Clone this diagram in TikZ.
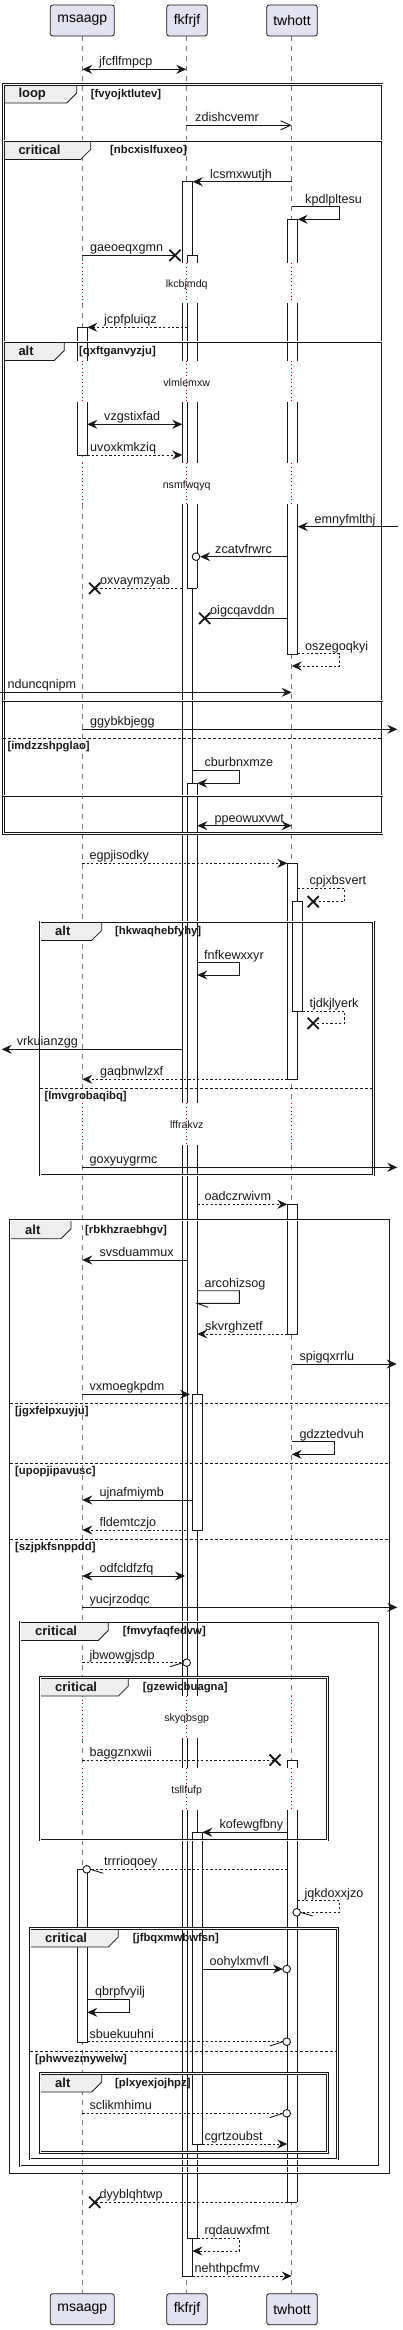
\documentclass[tikz,border=0pt]{standalone}
\usepackage{fontspec}
\setmainfont{Liberation Sans}
\usetikzlibrary{arrows.meta}
\definecolor{ink}{HTML}{181818}
\definecolor{partfill}{HTML}{E2E2F0}
\definecolor{tabfill}{HTML}{EEEEEE}
\definecolor{delayc}{HTML}{A80036}
\tikzset{
  lifeline/.style={draw=black!55, line width=0.8pt, dash pattern=on 5pt off 5pt},
  delayline/.style={draw=delayc, line width=0.9pt, dash pattern=on 1pt off 2.6pt},
  boxline/.style={draw=ink, line width=0.9pt},
  actbox/.style={fill=white, draw=ink, line width=0.9pt},
  part/.style={draw=ink, fill=partfill, line width=0.8pt, rounded corners=2.5pt, minimum height=31pt, inner sep=0pt, font=\fontsize{14}{16}\selectfont},
  msg/.style={draw=ink, line width=0.9pt},
  dmsg/.style={msg, dash pattern=on 2.2pt off 2.2pt},
  fa/.style={-{Stealth[length=10pt,width=9pt,inset=3.5pt]}},
  ba/.style={{Stealth[length=10pt,width=9pt,inset=3.5pt]}-{Stealth[length=10pt,width=9pt,inset=3.5pt]}},
  oa/.style={-{Straight Barb[length=10pt,width=9pt]}},
  lbl/.style={anchor=base west, inner sep=0pt, font=\fontsize{12.6}{14}\selectfont, text=ink},
  dlbl/.style={anchor=base, inner sep=0pt, font=\fontsize{10.6}{12}\selectfont, text=ink},
  frameb/.style={draw=ink, line width=0.75pt, double=white, double distance=0.9pt},
  tabb/.style={draw=ink, fill=tabfill, line width=0.8pt},
  tabt/.style={anchor=west, inner sep=0pt, font=\bfseries\fontsize{13}{15}\selectfont, text=ink},
  grd/.style={anchor=west, inner sep=0pt, font=\bfseries\fontsize{11.3}{13}\selectfont, text=ink},
  elseln/.style={draw=ink, line width=0.8pt, dash pattern=on 2.5pt off 2.5pt},
  xmark/.style={draw=ink, line width=1.8pt},
  omark/.style={draw=ink, line width=0.9pt, fill=white},
}
\newcommand\seg[4]{\fill[white] (#1,#3) rectangle (#2,#4); \draw[boxline] (#1,#3) -- (#1,#4) (#2,#3) -- (#2,#4);}
\newcommand\hln[3]{\draw[boxline] (#1,#3) -- (#2,#3);}
\newcommand\xmk[2]{\draw[xmark] (#1-5.6,#2-5.6) -- (#1+5.6,#2+5.6) (#1-5.6,#2+5.6) -- (#1+5.6,#2-5.6);}
\newcommand\omk[2]{\draw[omark] (#1,#2) circle[radius=3.8];}
\newcommand\frm[9]{%
  \draw[tabb] (#2,#3) -- (#6,#3) -- (#6,#3+8.7) -- (#6-10,#3+18.7) -- (#2,#3+18.7) -- cycle;
  \draw[frameb] (#2,#3) rectangle (#4,#5);
  \node[tabt] (#1k) at (#2+15,#3+9.5) {#7};
  \node[grd] (#1g) at (#9,#3+10.3) {#8};}
\newcommand\els[6]{%
  \draw[elseln] (#2,#4) -- (#3,#4);
  \node[grd] (#1) at (#5,#4+8.5) {#6};}
\begin{document}
\begin{tikzpicture}[x=1pt,y=-1pt]
\useasboundingbox (0,0) rectangle (403,2330);

% participants
\node[part, minimum width=64pt] (pa) at (82.3,20.5) {msaagp};
\node[part, minimum width=40.6pt] (pb) at (187,20.5) {fkfrjf};
\node[part, minimum width=50.6pt] (pc) at (292,20.5) {twhott};
\node[part, minimum width=64pt] (qa) at (82.3,2309.2) {msaagp};
\node[part, minimum width=40.6pt] (qb) at (187,2309.2) {fkfrjf};
\node[part, minimum width=50.6pt] (qc) at (292,2309.2) {twhott};

% lifelines
\foreach \x in {82.3,186.3,291.7}{
  \foreach \a/\b in {36/263.3, 303.3/360.7, 402.3/463.3, 504/1103.3, 1145/1696, 1738.3/1768.3, 1810/2293.3}
    \draw[lifeline] (\x,\a) -- (\x,\b);
  \foreach \a/\b in {263.3/303.3, 360.7/402.3, 463.3/504, 1103.3/1145, 1696/1738.3, 1768.3/1810}
    \draw[delayline] (\x,\a) -- (\x,\b);
}

% activation boxes
\foreach \a/\b in {181.7/263.3, 303.3/360.7, 402.3/463.3, 504/1103.3, 1145/1696, 1738.3/1768.3, 1810/2276}
  {\seg{182.3}{192.7}{\a}{\b}}
\hln{182.3}{192.7}{181.7} \hln{182.3}{192.7}{2276}
\foreach \a/\b in {255.3/263.3, 303.3/360.7, 402.3/463.3, 504/588.3}
  {\seg{187.3}{197.3}{\a}{\b}}
\hln{187.3}{197.3}{255.3} \hln{187.3}{197.3}{588.3}
\foreach \a/\b in {783.3/1103.3, 1145/1696, 1738.3/1768.3, 1810/2238.3}
  {\seg{187.3}{197.3}{\a}{\b}}
\hln{187.3}{197.3}{783.3} \hln{187.3}{197.3}{2238.3}
\draw[actbox] (192.3,1394.3) rectangle (202.3,1530);
\draw[actbox] (192.3,1832.3) rectangle (202.3,2144);
\foreach \a/\b in {219.3/263.3, 303.3/360.7, 402.3/463.3, 504/654.3}
  {\seg{287.3}{297.7}{\a}{\b}}
\hln{287.3}{297.7}{219.3} \hln{287.3}{297.7}{654.3}
\draw[actbox] (287.3,863.3) rectangle (297.7,1079.3);
\draw[actbox] (292.3,901.7) rectangle (302.3,1011);
\draw[actbox] (287.3,1204.3) rectangle (297.7,1334);
\foreach \a/\b in {1760/1768.3, 1810/2202.3}
  {\seg{287.3}{297.3}{\a}{\b}}
\hln{287.3}{297.3}{1760} \hln{287.3}{297.3}{2202.3}
\foreach \a/\b in {327.3/360.7, 402.3/455}
  {\seg{77.3}{87.3}{\a}{\b}}
\hln{77.3}{87.3}{327.3} \hln{77.3}{87.3}{455}
\draw[actbox] (77.3,1869.3) rectangle (87.3,2042.3);

% frames
\frm{fa1}{3.3}{84.3}{382}{833.3}{76.7}{loop}{[fvyojktlutev]}{90.7}
\frm{fa2}{3.3}{140.7}{382}{795.7}{90.7}{critical}{[nbcxislfuxeo]}{110}
\frm{fa3}{3.3}{341.7}{382}{700.7}{64.3}{alt}{[qxftganvyzju]}{79}
\els{e1}{3.3}{382}{738.3}{7.3}{[imdzzshpglao]}
\frm{fa4}{40}{921.7}{373.3}{1175}{101.7}{alt}{[hkwaqhebfyhy]}{115}
\els{e2}{40}{373.3}{1088.3}{44.3}{[lmvgrobaqibq]}
\frm{fa5}{10}{1220}{388.7}{2172.7}{71}{alt}{[rbkhzraebhgv]}{85}
\els{e3}{10}{388.7}{1403.3}{15}{[jgxfelpxuyju]}
\els{e4}{10}{388.7}{1463.3}{15}{[upopjipavusc]}
\els{e5}{10}{388.7}{1539}{15}{[szjpkfsnppdd]}
\frm{fa6}{20}{1621.7}{379}{2166}{108.3}{critical}{[fmvyfaqfedvw]}{122.7}
\frm{fa7}{40}{1677.3}{327.3}{1840}{128.3}{critical}{[gzewicbuagna]}{142.7}
\frm{fa8}{30}{1928.3}{337.3}{2159}{118.3}{critical}{[jfbqxmwbwfsn]}{132.7}
\els{e6}{30}{337.3}{2051}{35}{[phwvezmywelw]}
\frm{fa9}{40}{2073.3}{327.3}{2152.3}{101.7}{alt}{[plxyexjojhpz]}{115}

% delays
\node[dlbl] (d1) at (186.7,287.8) {lkcbjmdq};
\node[dlbl] (d2) at (186.7,386) {vlmlemxw};
\node[dlbl] (d3) at (186.7,488.2) {nsmfwqyq};
\node[dlbl] (d4) at (186.7,1128.7) {lffrakvz};
\node[dlbl] (d5) at (186.7,1721.7) {skyqbsgp};
\node[dlbl] (d6) at (186.7,1793.5) {tsllfufp};

% messages
\draw[msg, ba] (82.3,69.3) -- (186.3,69.3);
\node[lbl] (m1) at (99,65.6) {jfcflfmpcp};
\draw[msg, oa] (186.3,125.3) -- (291.7,125.3);
\node[lbl] (m2) at (195,121.6) {zdishcvemr};
\draw[msg, fa] (291.7,181.7) -- (192.7,181.7);
\node[lbl] (m3) at (210,178) {lcsmxwutjh};
\draw[msg, fa] (291.7,206.7) -- (339.3,206.7) -- (339.3,219.3) -- (297.7,219.3);
\node[lbl] (m4) at (305,203) {kpdlpltesu};
\draw[msg] (82.3,255.3) -- (175,255.3); \xmk{175}{255.3}
\node[lbl] (m5) at (90,251.6) {gaeoeqxgmn};
\draw[dmsg, fa] (187.3,327.3) -- (87.3,327.3);
\node[lbl] (m6) at (104,323.6) {jcpfpluiqz};
\draw[msg, ba] (87.3,424.3) -- (182.3,424.3);
\node[lbl] (m7) at (104,420.6) {vzgstixfad};
\draw[dmsg, fa] (87.3,455) -- (182.3,455);
\node[lbl] (m8) at (90,451.3) {uvoxkmkziq};
\draw[msg, fa] (398.3,526.7) -- (297.7,526.7);
\node[lbl] (m9) at (314.3,523) {emnyfmlthj};
\draw[msg, fa] (287.3,556.7) -- (200.2,556.7); \omk{196}{556.7}
\node[lbl] (m10) at (215,553) {zcatvfrwrc};
\draw[dmsg] (181.7,588.3) -- (94.7,588.3); \xmk{94.7}{588.3}
\node[lbl] (m11) at (100,584.6) {oxvaymzyab};
\draw[msg] (287.3,618.3) -- (204.7,618.3); \xmk{204.7}{618.3}
\node[lbl] (m12) at (210,614.6) {oigcqavddn};
\draw[dmsg, fa] (297.7,653.7) -- (339.3,653.7) -- (339.3,666) -- (291.7,666);
\node[lbl] (m13) at (305,650) {oszegoqkyi};
\draw[msg, fa] (0,692.3) -- (291.7,692.3);
\node[lbl] (m14) at (7.3,688.6) {nduncqnipm};
\draw[msg, fa] (82.3,729.3) -- (397.3,729.3);
\node[lbl] (m15) at (90,725.6) {ggybkbjegg};
\draw[msg, fa] (192.7,770) -- (239.3,770) -- (239.3,783.3) -- (197.3,783.3);
\node[lbl] (m16) at (204.3,766.3) {cburbnxmze};
\draw[msg, ba] (197.3,825.7) -- (291.7,825.7);
\node[lbl] (m17) at (214.3,822) {ppeowuxvwt};
\draw[dmsg, fa] (82.3,863.3) -- (287.3,863.3);
\node[lbl] (m18) at (89.3,859.6) {egpjisodky};
\draw[dmsg] (297.7,888.3) -- (344.3,888.3) -- (344.3,901.7) -- (313.2,901.7); \xmk{313.2}{901.7}
\node[lbl] (m19) at (309.3,884.6) {cpjxbsvert};
\draw[msg, fa] (197.3,962.7) -- (239.3,962.7) -- (239.3,975) -- (197.3,975);
\node[lbl] (m20) at (204,959) {fnfkewxxyr};
\draw[dmsg] (302.3,1011) -- (344.3,1011) -- (344.3,1023.3) -- (313.2,1023.3); \xmk{313.2}{1023.3}
\node[lbl] (m21) at (309.3,1007.3) {tjdkjlyerk};
\draw[msg, fa] (181.7,1049.3) -- (1.7,1049.3);
\node[lbl] (m22) at (16.7,1045.6) {vrkuianzgg};
\draw[dmsg, fa] (287.3,1079.3) -- (82.3,1079.3);
\node[lbl] (m23) at (100,1075.6) {gaqbnwlzxf};
\draw[msg, fa] (82.3,1167.3) -- (397.3,1167.3);
\node[lbl] (m24) at (89.3,1163.6) {goxyuygrmc};
\draw[dmsg, fa] (197.3,1204.3) -- (287.3,1204.3);
\node[lbl] (m25) at (204.3,1200.6) {oadczrwivm};
\draw[msg, fa] (187.3,1260) -- (82.3,1260);
\node[lbl] (m26) at (99.3,1256.3) {svsduammux};
\draw[msg] (197.3,1290.7) -- (239.3,1290.7) -- (239.3,1303.3) -- (197.3,1303.3) -- (208.3,1307.3);
\node[lbl] (m27) at (204.3,1287) {arcohizsog};
\draw[dmsg, fa] (287.3,1334) -- (197.3,1334);
\node[lbl] (m28) at (205,1330.3) {skvrghzetf};
\draw[msg, fa] (291.7,1364) -- (396.7,1364);
\node[lbl] (m29) at (299.3,1360.3) {spigqxrrlu};
\draw[msg, fa] (82.3,1394.3) -- (190,1394.3);
\node[lbl] (m30) at (89.3,1390.6) {vxmoegkpdm};
\draw[msg, fa] (291.7,1441.7) -- (334.3,1441.7) -- (334.3,1454.3) -- (291.7,1454.3);
\node[lbl] (m31) at (299.3,1438) {gdzztedvuh};
\draw[msg, fa] (192.3,1500) -- (82.3,1500);
\node[lbl] (m32) at (99.3,1496.3) {ujnafmiymb};
\draw[dmsg, fa] (185.7,1530) -- (82.3,1530);
\node[lbl] (m33) at (99.3,1526.3) {fldemtczjo};
\draw[msg, ba] (82.3,1576) -- (185,1576);
\node[lbl] (m34) at (99.3,1572.3) {odfcldfzfq};
\draw[msg, fa] (82.3,1607.3) -- (397.3,1607.3);
\node[lbl] (m35) at (89.3,1603.6) {yucjrzodqc};
\draw[dmsg] (82.3,1662.7) -- (182.9,1662.7); \draw[msg] (182.9,1662.7) -- (170,1666.7); \omk{186.7}{1662.7}
\node[lbl] (m36) at (89.3,1659) {jbwowgjsdp};
\draw[dmsg] (82.3,1760) -- (275,1760); \xmk{275}{1760}
\node[lbl] (m37) at (89.3,1756.3) {baggznxwii};
\draw[msg, fa] (287.3,1832.3) -- (202.3,1832.3);
\node[lbl] (m38) at (219.3,1828.6) {kofewgfbny};
\draw[dmsg] (287.3,1869.3) -- (90.5,1869.3); \draw[msg] (90.5,1869.3) -- (103.3,1873.3); \omk{86.7}{1869.3}
\node[lbl] (m39) at (104,1865.6) {trrrioqoey};
\draw[dmsg] (297.3,1900.7) -- (339.3,1900.7) -- (339.3,1912.3) -- (300.5,1912.3); \draw[msg] (300.5,1912.3) -- (312.7,1916); \omk{296.7}{1912.3}
\node[lbl] (m40) at (304.3,1897) {jqkdoxxjzo};
\draw[msg, fa] (202.3,1969) -- (282.9,1969); \omk{286.7}{1969}
\node[lbl] (m41) at (209.3,1965.3) {oohylxmvfl};
\draw[msg, fa] (87.3,1999.3) -- (129.3,1999.3) -- (129.3,2012.3) -- (87.3,2012.3);
\node[lbl] (m42) at (95,1995.6) {qbrpfvyilj};
\draw[dmsg] (87.3,2041.7) -- (282.9,2041.7); \draw[msg] (282.9,2041.7) -- (269.8,2046); \omk{286.7}{2041.7}
\node[lbl] (m43) at (89.3,2038) {sbuekuuhni};
\draw[dmsg] (82.3,2113.3) -- (282.9,2113.3); \draw[msg] (282.9,2113.3) -- (269.8,2117.6); \omk{286.7}{2113.3}
\node[lbl] (m44) at (89.3,2109.6) {sclikmhimu};
\draw[dmsg, fa] (202.3,2144) -- (287.3,2144);
\node[lbl] (m45) at (204.3,2140.3) {cgrtzoubst};
\draw[dmsg] (287.3,2202.3) -- (94.7,2202.3); \xmk{94.7}{2202.3}
\node[lbl] (m46) at (99.3,2198.6) {dyyblqhtwp};
\draw[dmsg, fa] (197.3,2238.3) -- (239.3,2238.3) -- (239.3,2251) -- (192.3,2251);
\node[lbl] (m47) at (204.3,2234.6) {rqdauwxfmt};
\draw[dmsg, fa] (192.3,2276) -- (291.7,2276);
\node[lbl] (m48) at (194.3,2272.3) {nehthpcfmv};
\end{tikzpicture}
\end{document}
